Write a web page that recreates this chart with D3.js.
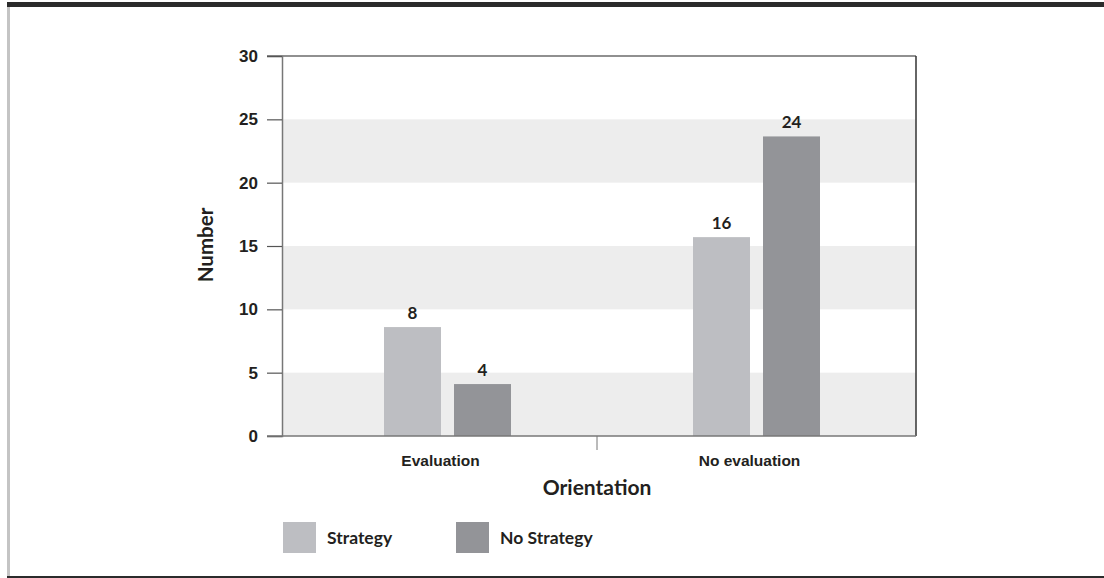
<!DOCTYPE html>
<html>
<head>
<meta charset="utf-8">
<script src="https://cdn.jsdelivr.net/npm/d3@7"></script>
<style>
  html, body { margin: 0; padding: 0; background: #fff; }
  svg { display: block; font-family: Lato, "Open Sans", sans-serif; }
</style>
</head>
<body>
<svg id="chart" width="1104" height="578"></svg>
<script>
// ---- data ----
const categories = ["Evaluation", "No evaluation"];
const series = ["Strategy", "No Strategy"];
const strategyValues = [8.6, 15.7];      // drawn bar heights
const noStrategyValues = [4.1, 23.65];
const strategyLabels = ["8", "16"];
const noStrategyLabels = ["4", "24"];
const yTicks = [0, 5, 10, 15, 20, 25, 30];
const bands = [[0, 5], [10, 15], [20, 25]];
const colors = ["#bdbec2", "#939498"];

(function () {
const svg = d3.select("#chart");
const textColor = "#231f20";

// frame
svg.append("rect").attr("x", 7).attr("y", 2).attr("width", 1097).attr("height", 5).attr("fill", "#2b2b2b");
svg.append("rect").attr("x", 7).attr("y", 7).attr("width", 3).attr("height", 570).attr("fill", "#c4c4c4");
svg.append("rect").attr("x", 7).attr("y", 576).attr("width", 1097).attr("height", 2).attr("fill", "#2b2b2b");

const pLeft = 282, pRight = 916, pTop = 56, pBottom = 436;
const y = d3.scaleLinear().domain([0, 30]).range([pBottom, pTop]);
const x0 = d3.scaleBand().domain(categories).range([286, 904]).padding(0);
const groupWidth = 127, groupShift = 7;
const x1 = d3.scaleBand().domain(series).range([0, groupWidth]).paddingInner(0.186);

// background bands
svg.append("g").selectAll("rect").data(bands).join("rect")
  .attr("x", pLeft).attr("width", pRight - pLeft)
  .attr("y", d => y(d[1])).attr("height", d => y(d[0]) - y(d[1]))
  .attr("fill", "#ededed");

// bars
const rows = categories.map((c, i) => ({
  cat: c,
  vals: [
    { s: series[0], v: strategyValues[i], label: strategyLabels[i] },
    { s: series[1], v: noStrategyValues[i], label: noStrategyLabels[i] }
  ]
}));
const groups = svg.append("g").selectAll("g").data(rows).join("g")
  .attr("transform", d => `translate(${x0(d.cat) + x0.bandwidth() / 2 - groupWidth / 2 + groupShift},0)`);
groups.selectAll("rect").data(d => d.vals).join("rect")
  .attr("x", d => x1(d.s)).attr("width", x1.bandwidth())
  .attr("y", d => y(d.v)).attr("height", d => y(0) - y(d.v))
  .attr("fill", (d, i) => colors[i]);
groups.selectAll("text").data(d => d.vals).join("text")
  .attr("x", d => x1(d.s) + x1.bandwidth() / 2)
  .attr("y", d => y(d.v) - 8)
  .attr("text-anchor", "middle")
  .attr("font-size", 17).attr("font-weight", 700).attr("fill", textColor)
  .text(d => d.label);

// frame lines of plot
svg.append("line").attr("x1", 267).attr("x2", pRight).attr("y1", pTop).attr("y2", pTop).attr("stroke", "#222").attr("stroke-width", 1.2);
svg.append("line").attr("x1", pRight).attr("x2", pRight).attr("y1", pTop).attr("y2", pBottom).attr("stroke", "#333").attr("stroke-width", 1.5);

// y axis
const yAxis = d3.axisLeft(y).tickValues(yTicks).tickSize(15).tickPadding(9);
const gy = svg.append("g").attr("transform", `translate(${pLeft},0)`).call(yAxis);
gy.select(".domain").attr("stroke", "#777").attr("stroke-width", 1.5);
gy.selectAll(".tick line").attr("stroke", "#555").attr("stroke-width", 1.2);
gy.selectAll(".tick text").attr("font-size", 17).attr("font-weight", 700).attr("fill", textColor).attr("font-family", null);

// x axis
svg.append("line").attr("x1", 267).attr("x2", pRight).attr("y1", pBottom).attr("y2", pBottom).attr("stroke", "#777").attr("stroke-width", 1.5);
const xAxis = d3.axisBottom(x0).tickSize(0).tickPadding(19);
const gx = svg.append("g").attr("transform", `translate(0,${pBottom})`).call(xAxis);
gx.select(".domain").remove();
gx.selectAll(".tick text").attr("font-size", 15.5).attr("font-weight", 700).attr("fill", textColor).attr("font-family", null);
svg.append("line")
  .attr("x1", x0(categories[1]) + 2).attr("x2", x0(categories[1]) + 2)
  .attr("y1", pBottom).attr("y2", pBottom + 14)
  .attr("stroke", "#777").attr("stroke-width", 1);

// axis titles
svg.append("text").attr("x", 597).attr("y", 495).attr("text-anchor", "middle")
  .attr("font-size", 21).attr("font-weight", 700).attr("fill", textColor).text("Orientation");
svg.append("text").attr("transform", "translate(213,245) rotate(-90)").attr("text-anchor", "middle")
  .attr("font-size", 20.5).attr("font-weight", 700).attr("fill", textColor).text("Number");

// legend
const legendX = [283, 456];
const lg = svg.append("g").selectAll("g").data(series).join("g")
  .attr("transform", (d, i) => `translate(${legendX[i]},522)`);
lg.append("rect").attr("width", 33).attr("height", 31).attr("fill", (d, i) => colors[i]);
lg.append("text").attr("x", 44).attr("y", 22).attr("font-size", 17.5).attr("font-weight", 700)
  .attr("fill", textColor).text(d => d);
})();
</script>
</body>
</html>
